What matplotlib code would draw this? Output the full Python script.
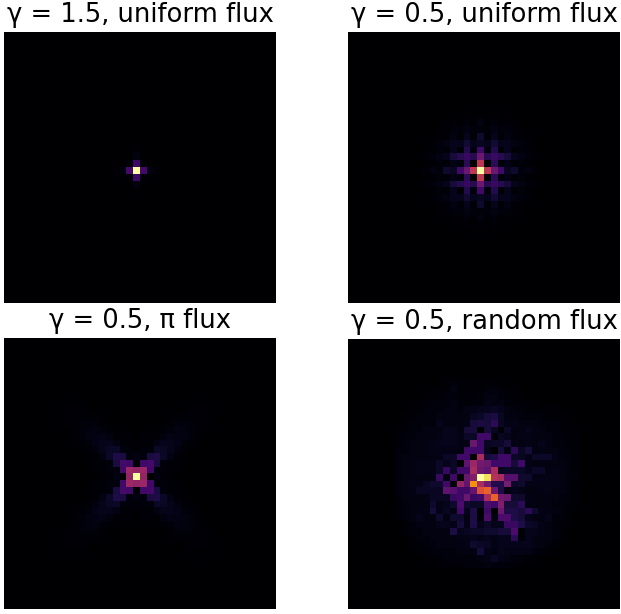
import numpy as np
import matplotlib
matplotlib.use("Agg")
import matplotlib.pyplot as plt

GRID = 40
CENTER_ROW = 20
CENTER_COL = 19

titles = ["γ = 1.5, uniform flux", "γ = 0.5, uniform flux", "γ = 0.5, π flux", "γ = 0.5, random flux"]

# quadrant tables: row = |dy|, column = |dx| from the central cell
strong_uniform = [
    [1.00, 0.21, 0.03, 0.01],
    [0.19, 0.01, 0.00, 0.00],
    [0.03, 0.00, 0.00, 0.00],
    [0.01, 0.00, 0.00, 0.00],
]
weak_uniform = [
    [1.00, 0.50, 0.30, 0.20, 0.06, 0.08, 0.02, 0.03, 0.01, 0.005],
    [0.50, 0.00, 0.15, 0.02, 0.04, 0.01, 0.02, 0.005, 0.005, 0.00],
    [0.30, 0.14, 0.18, 0.14, 0.10, 0.05, 0.03, 0.02, 0.01, 0.005],
    [0.20, 0.02, 0.13, 0.01, 0.05, 0.01, 0.02, 0.005, 0.005, 0.00],
    [0.06, 0.05, 0.09, 0.05, 0.05, 0.03, 0.02, 0.01, 0.005, 0.00],
    [0.08, 0.01, 0.05, 0.01, 0.03, 0.01, 0.01, 0.005, 0.00, 0.00],
    [0.02, 0.02, 0.03, 0.02, 0.02, 0.01, 0.01, 0.00, 0.00, 0.00],
    [0.03, 0.005, 0.02, 0.005, 0.01, 0.005, 0.00, 0.00, 0.00, 0.00],
    [0.01, 0.005, 0.01, 0.005, 0.005, 0.00, 0.00, 0.00, 0.00, 0.00],
    [0.005, 0.00, 0.005, 0.00, 0.00, 0.00, 0.00, 0.00, 0.00, 0.00],
]
pi_flux = [
    [1.00, 0.40, 0.00, 0.03, 0.01, 0.01, 0.00, 0.00, 0.00, 0.00, 0.00, 0.00, 0.00, 0.00],
    [0.40, 0.42, 0.20, 0.02, 0.02, 0.015, 0.01, 0.00, 0.00, 0.00, 0.00, 0.00, 0.00, 0.00],
    [0.00, 0.20, 0.21, 0.11, 0.02, 0.015, 0.01, 0.005, 0.00, 0.00, 0.00, 0.00, 0.00, 0.00],
    [0.03, 0.02, 0.11, 0.12, 0.07, 0.03, 0.01, 0.005, 0.00, 0.00, 0.00, 0.00, 0.00, 0.00],
    [0.01, 0.02, 0.02, 0.07, 0.065, 0.05, 0.025, 0.01, 0.005, 0.00, 0.00, 0.00, 0.00, 0.00],
    [0.01, 0.015, 0.015, 0.03, 0.05, 0.045, 0.04, 0.018, 0.01, 0.005, 0.00, 0.00, 0.00, 0.00],
    [0.00, 0.01, 0.01, 0.01, 0.025, 0.04, 0.035, 0.03, 0.018, 0.01, 0.00, 0.00, 0.00, 0.00],
    [0.00, 0.00, 0.005, 0.005, 0.01, 0.018, 0.03, 0.025, 0.022, 0.012, 0.005, 0.00, 0.00, 0.00],
    [0.00, 0.00, 0.00, 0.00, 0.005, 0.01, 0.018, 0.022, 0.018, 0.015, 0.008, 0.004, 0.00, 0.00],
    [0.00, 0.00, 0.00, 0.00, 0.00, 0.005, 0.01, 0.012, 0.015, 0.013, 0.01, 0.006, 0.00, 0.00],
    [0.00, 0.00, 0.00, 0.00, 0.00, 0.00, 0.00, 0.005, 0.008, 0.01, 0.008, 0.006, 0.004, 0.00],
    [0.00, 0.00, 0.00, 0.00, 0.00, 0.00, 0.00, 0.00, 0.004, 0.006, 0.006, 0.005, 0.003, 0.00],
    [0.00, 0.00, 0.00, 0.00, 0.00, 0.00, 0.00, 0.00, 0.00, 0.003, 0.004, 0.003, 0.002, 0.00],
]

# random-flux window: rows 6..33, columns 7..33, in hundredths
random_first_row = 6
random_first_col = 7
random_flux = [
    [0,0,0,0,0,0,0,1,2,1,1,1,1,1,1,0,0,0,0,0,0,0,0,0,0,0,0],
    [0,0,0,0,0,1,1,1,3,1,1,1,1,2,2,1,1,1,0,0,0,0,0,0,0,0,0],
    [0,0,0,0,1,1,1,2,2,1,1,1,2,3,3,2,1,1,1,0,0,0,0,0,0,0,0],
    [0,0,0,1,1,2,2,2,3,2,1,2,2,4,3,3,2,1,1,1,1,0,0,0,0,0,0],
    [0,0,1,1,2,2,2,3,3,2,4,4,5,5,6,5,3,2,2,1,1,1,1,1,0,0,0],
    [0,1,1,2,2,2,3,3,3,3,3,6,7,10,11,6,3,3,2,2,2,2,1,1,1,0,0],
    [0,1,2,2,2,2,5,3,3,3,4,10,11,10,15,6,4,4,3,3,3,2,2,2,1,1,0],
    [1,1,2,2,3,3,3,5,5,3,10,10,0,10,6,1,7,3,3,5,3,3,2,2,1,1,1],
    [1,2,2,3,3,3,4,5,5,4,7,7,20,20,2,6,5,3,4,4,3,3,3,2,2,1,1],
    [1,2,3,3,3,4,5,5,5,4,4,30,20,6,7,7,10,4,3,4,3,5,3,2,2,1,1],
    [2,2,3,3,3,4,4,4,4,3,20,20,20,5,0,10,3,15,6,10,3,4,3,3,2,2,1],
    [2,3,3,3,3,4,4,7,7,20,20,0,45,10,12,20,20,7,6,4,7,7,7,4,2,2,1],
    [2,3,3,4,4,4,7,5,7,0,27,42,32,30,20,20,20,10,20,4,3,3,3,3,3,2,1],
    [2,3,3,4,4,4,7,17,7,20,20,45,30,27,45,6,7,7,7,5,7,7,3,4,3,2,1],
    [2,3,3,3,3,4,18,3,20,0,30,35,100,92,48,45,25,25,8,8,4,4,4,4,3,2,2],
    [2,3,4,4,6,8,8,20,1,40,28,75,45,32,13,13,33,7,8,4,4,4,4,4,3,2,1],
    [2,3,4,6,6,6,6,27,25,20,20,28,60,65,30,12,3,5,4,3,3,4,4,3,3,2,1],
    [2,3,3,3,4,6,6,6,18,20,30,18,20,45,65,32,30,8,8,4,3,3,3,3,2,2,1],
    [1,2,3,3,3,8,4,5,8,22,8,7,7,22,20,35,10,10,15,3,3,3,3,2,2,1,1],
    [1,2,3,3,4,10,4,6,4,20,5,12,0,20,0,30,12,12,10,15,8,4,3,3,2,1,0],
    [1,2,3,5,3,3,8,3,8,8,3,12,1,22,3,22,22,12,10,5,3,3,5,2,2,1,0],
    [0,1,2,3,3,3,5,5,4,10,4,12,5,7,5,5,18,18,12,7,6,4,3,2,1,1,0],
    [0,1,2,2,3,3,3,3,12,5,6,7,7,8,8,10,10,22,1,5,5,4,3,2,1,0,0],
    [0,0,1,2,2,3,3,3,3,4,4,5,4,5,4,5,5,15,1,5,3,3,3,2,1,0,0],
    [0,0,1,1,2,2,3,3,3,3,4,8,7,6,4,5,5,5,5,5,4,3,2,1,0,0,0],
    [0,0,0,1,1,2,2,2,2,3,3,3,10,4,3,5,4,4,4,4,2,2,1,0,0,0,0],
    [0,0,0,0,1,1,1,2,2,2,2,2,3,4,6,4,3,2,2,1,1,0,0,0,0,0,0],
    [0,0,0,0,0,0,1,1,1,1,2,2,2,3,2,2,2,1,1,0,0,0,0,0,0,0,0],
]


def mirrored(quadrant):
    q = np.asarray(quadrant, dtype=float)
    grid = np.zeros((GRID, GRID))
    rows, cols = np.indices((GRID, GRID))
    dy = np.abs(rows - CENTER_ROW)
    dx = np.abs(cols - CENTER_COL)
    inside = (dy < q.shape[0]) & (dx < q.shape[1])
    grid[inside] = q[dy[inside], dx[inside]]
    return grid


def windowed(table):
    t = np.asarray(table, dtype=float) / 100
    grid = np.zeros((GRID, GRID))
    grid[random_first_row:random_first_row + t.shape[0],
         random_first_col:random_first_col + t.shape[1]] = t
    return grid


panels = [mirrored(strong_uniform), mirrored(weak_uniform), mirrored(pi_flux), windowed(random_flux)]
boxes_px = [(4, 31.5, 272, 271.5), (348, 31.5, 272, 271.5), (4, 338, 272, 271), (348, 339, 272, 270)]

W, H = 621, 614
fig = plt.figure(figsize=(W / 100, H / 100), dpi=100)
for data, title, (x, y, w, h) in zip(panels, titles, boxes_px):
    ax = fig.add_axes([x / W, 1 - (y + h) / H, w / W, h / H])
    ax.imshow(data, cmap="inferno", vmin=0, vmax=1, interpolation="nearest", aspect="auto")
    ax.axis("off")
    ax.set_title(title, fontsize=18.5, pad=7)
fig.savefig("out.png", dpi=100)
